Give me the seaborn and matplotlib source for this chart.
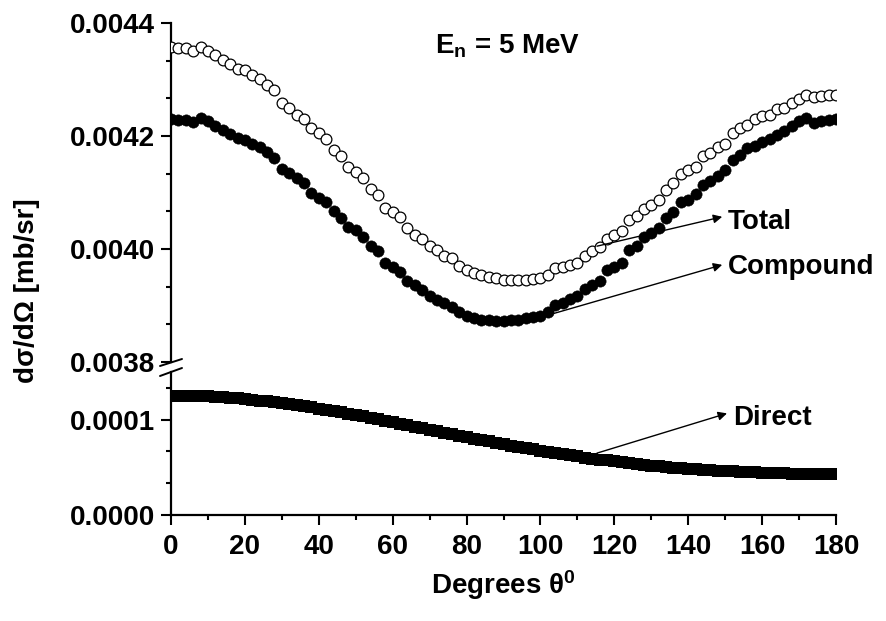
import numpy as np
import pandas as pd
import matplotlib
matplotlib.use("Agg")
import matplotlib.pyplot as plt
import seaborn as sns
from matplotlib.ticker import MultipleLocator, FormatStrFormatter
from matplotlib.lines import Line2D

# ---------------- data ----------------
angles = list(range(0, 181, 2))

total = [
    0.004358, 0.004356, 0.004356, 0.004350, 0.004358, 0.004350, 0.004344, 0.004335, 0.004328, 0.004319,
    0.004316, 0.004308, 0.004301, 0.004291, 0.004281, 0.004258, 0.004250, 0.004238, 0.004230, 0.004214,
    0.004205, 0.004195, 0.004176, 0.004164, 0.004146, 0.004136, 0.004126, 0.004106, 0.004096, 0.004073,
    0.004065, 0.004057, 0.004037, 0.004025, 0.004018, 0.004005, 0.003998, 0.003988, 0.003984, 0.003970,
    0.003962, 0.003958, 0.003954, 0.003951, 0.003948, 0.003946, 0.003946, 0.003946, 0.003946, 0.003947,
    0.003948, 0.003954, 0.003966, 0.003968, 0.003972, 0.003976, 0.003988, 0.003996, 0.004004, 0.004018,
    0.004024, 0.004032, 0.004052, 0.004059, 0.004071, 0.004077, 0.004087, 0.004105, 0.004117, 0.004133,
    0.004139, 0.004146, 0.004164, 0.004170, 0.004181, 0.004186, 0.004205, 0.004214, 0.004220, 0.004230,
    0.004235, 0.004238, 0.004247, 0.004250, 0.004258, 0.004265, 0.004273, 0.004269, 0.004271, 0.004273,
    0.004273,
]

compound = [
    0.004230, 0.004229, 0.004228, 0.004224, 0.004232, 0.004226, 0.004218, 0.004211, 0.004204, 0.004196,
    0.004193, 0.004186, 0.004181, 0.004171, 0.004161, 0.004142, 0.004135, 0.004126, 0.004117, 0.004100,
    0.004090, 0.004084, 0.004067, 0.004055, 0.004039, 0.004033, 0.004022, 0.004005, 0.003996, 0.003976,
    0.003968, 0.003960, 0.003944, 0.003937, 0.003928, 0.003917, 0.003910, 0.003904, 0.003898, 0.003888,
    0.003881, 0.003878, 0.003875, 0.003874, 0.003873, 0.003873, 0.003874, 0.003875, 0.003877, 0.003880,
    0.003882, 0.003888, 0.003901, 0.003905, 0.003912, 0.003917, 0.003929, 0.003937, 0.003943, 0.003962,
    0.003969, 0.003975, 0.003998, 0.004005, 0.004021, 0.004029, 0.004037, 0.004055, 0.004065, 0.004083,
    0.004087, 0.004098, 0.004114, 0.004120, 0.004129, 0.004140, 0.004158, 0.004167, 0.004179, 0.004182,
    0.004189, 0.004195, 0.004202, 0.004209, 0.004218, 0.004226, 0.004232, 0.004223, 0.004226, 0.004229,
    0.004230,
]

direct = [
    0.0001253, 0.0001253, 0.0001252, 0.0001250, 0.0001247, 0.0001244, 0.0001240, 0.0001235, 0.0001230, 0.0001224,
    0.0001217, 0.0001209, 0.0001201, 0.0001193, 0.0001183, 0.0001173, 0.0001163, 0.0001152, 0.0001140, 0.0001129,
    0.0001116, 0.0001103, 0.0001090, 0.0001076, 0.0001062, 0.0001048, 0.0001034, 0.0001019, 0.0001004, 0.0000989,
    0.0000973, 0.0000958, 0.0000942, 0.0000927, 0.0000911, 0.0000895, 0.0000880, 0.0000864, 0.0000848, 0.0000833,
    0.0000818, 0.0000802, 0.0000787, 0.0000772, 0.0000758, 0.0000743, 0.0000729, 0.0000715, 0.0000701, 0.0000688,
    0.0000675, 0.0000662, 0.0000649, 0.0000637, 0.0000625, 0.0000614, 0.0000603, 0.0000592, 0.0000582, 0.0000572,
    0.0000562, 0.0000553, 0.0000544, 0.0000535, 0.0000527, 0.0000519, 0.0000512, 0.0000505, 0.0000498, 0.0000492,
    0.0000486, 0.0000480, 0.0000475, 0.0000470, 0.0000465, 0.0000461, 0.0000457, 0.0000453, 0.0000449, 0.0000446,
    0.0000443, 0.0000441, 0.0000438, 0.0000436, 0.0000435, 0.0000433, 0.0000432, 0.0000431, 0.0000431, 0.0000430,
    0.0000430,
]

x_ticks = [0, 20, 40, 60, 80, 100, 120, 140, 160, 180]
upper_ticks = [0.0038, 0.0040, 0.0042, 0.0044]
lower_ticks = [0.0000, 0.0001]

series_labels = ["Total", "Compound", "Direct"]
energy_label = "E$_\\mathrm{n}$ = 5 MeV"
x_label = "Degrees θ$^\\mathrm{0}$"
y_label = "dσ/dΩ [mb/sr]"

# ---------------- style ----------------
sns.set_theme(style="ticks")
plt.rcParams["font.family"] = ["Liberation Sans", "DejaVu Sans"]
plt.rcParams["font.weight"] = "bold"
plt.rcParams["mathtext.fontset"] = "custom"
plt.rcParams["mathtext.rm"] = "Liberation Sans:bold"
plt.rcParams["mathtext.it"] = "Liberation Sans:bold"
plt.rcParams["mathtext.bf"] = "Liberation Sans:bold"
for key in ("text.color", "axes.labelcolor", "xtick.color", "ytick.color",
            "xtick.labelcolor", "ytick.labelcolor", "axes.edgecolor"):
    plt.rcParams[key] = "black"

W, H = 886, 621
fig = plt.figure(figsize=(W / 100, H / 100), dpi=100)
fig.patch.set_facecolor("white")


def fx(px):
    return px / W


def fy(py):
    return 1 - py / H


L, R = 171, 836
top_t, top_b = 23, 362
bot_t, bot_b = 372, 515
ax_top = fig.add_axes([fx(L), fy(top_b), (R - L) / W, (top_b - top_t) / H])
ax_bot = fig.add_axes([fx(L), fy(bot_b), (R - L) / W, (bot_b - bot_t) / H])

df = pd.DataFrame({"angle": angles, "total": total, "compound": compound, "direct": direct})

sns.scatterplot(data=df, x="angle", y="compound", ax=ax_top, color="black", marker="o",
                s=66, edgecolor="black", linewidth=0.4, zorder=3, legend=False)
sns.scatterplot(data=df, x="angle", y="total", ax=ax_top, color="white", marker="o",
                s=60, edgecolor="black", linewidth=0.9, zorder=3, legend=False)
sns.scatterplot(data=df, x="angle", y="direct", ax=ax_bot, color="black", marker="s",
                s=80, edgecolor="black", linewidth=0, zorder=3, legend=False)

FS = 20
for ax in (ax_top, ax_bot):
    ax.set_facecolor("white")
    ax.set_xlim(0, 180)
    ax.spines["top"].set_visible(False)
    ax.spines["right"].set_visible(False)
    for sp in ("left", "bottom"):
        ax.spines[sp].set_linewidth(1.6)
        ax.spines[sp].set_color("black")
    ax.set_xlabel("")
    ax.set_ylabel("")
    ax.tick_params(axis="both", which="major", direction="out", length=7.5, width=1.5,
                   color="black", labelcolor="black", labelsize=FS, pad=4)
    ax.tick_params(axis="both", which="minor", direction="out", length=3.8, width=1.5,
                   color="black")

# upper panel
ax_top.set_ylim(0.0038, 0.0044)
ax_top.set_yticks(upper_ticks)
ax_top.yaxis.set_major_formatter(FormatStrFormatter("%.4f"))
ax_top.yaxis.set_minor_locator(MultipleLocator(0.0002 / 3))
ax_top.spines["bottom"].set_visible(False)
ax_top.tick_params(axis="x", which="both", bottom=False, labelbottom=False)

# lower panel
ax_bot.set_ylim(0.0, 0.00015)
ax_bot.set_yticks(lower_ticks)
ax_bot.yaxis.set_major_formatter(FormatStrFormatter("%.4f"))
ax_bot.yaxis.set_minor_locator(MultipleLocator(0.0001 / 3))
ax_bot.set_xticks(x_ticks)
ax_bot.xaxis.set_minor_locator(MultipleLocator(10))
ax_bot.tick_params(axis="x", which="major", pad=6)
ax_bot.set_xlabel(x_label, fontsize=FS, fontweight="bold", labelpad=6, color="black")

for ax in (ax_top, ax_bot):
    for lab in ax.get_xticklabels() + ax.get_yticklabels():
        lab.set_fontweight("bold")
        lab.set_fontsize(FS)
        lab.set_color("black")

# y label
fig.text(fx(27), fy(291), y_label, rotation=90, ha="center", va="center",
         fontsize=FS, fontweight="bold", color="black")

# energy label
fig.text(fx(435), fy(53), energy_label, ha="left", va="baseline", fontsize=FS,
         fontweight="bold", color="black")

# annotations with arrows
arrow = dict(arrowstyle="-|>", lw=1.0, color="black", mutation_scale=13,
             shrinkA=0, shrinkB=0)
ax_top.annotate("", xy=(149.2, 0.004057), xytext=(115.3, 0.004005), arrowprops=arrow, zorder=4)
ax_top.annotate("", xy=(149.2, 0.003972), xytext=(102.6, 0.003884), arrowprops=arrow, zorder=4)
ax_bot.annotate("", xy=(150.5, 0.0001066), xytext=(115.3, 0.0000649), arrowprops=arrow, zorder=4)

ax_top.text(150.8, 0.004036, series_labels[0], ha="left", va="baseline", fontsize=FS,
            fontweight="bold", color="black")
ax_top.text(150.8, 0.003955, series_labels[1], ha="left", va="baseline", fontsize=FS,
            fontweight="bold", color="black")
ax_bot.text(152.1, 0.0000948, series_labels[2], ha="left", va="baseline", fontsize=FS,
            fontweight="bold", color="black")

# axis break marks
for (x0, y0, x1, y1) in [(160, 366, 182, 359), (160, 376, 182, 368)]:
    fig.add_artist(Line2D([fx(x0), fx(x1)], [fy(y0), fy(y1)], color="black", lw=1.4))

fig.savefig("out.png", dpi=100, facecolor="white")
